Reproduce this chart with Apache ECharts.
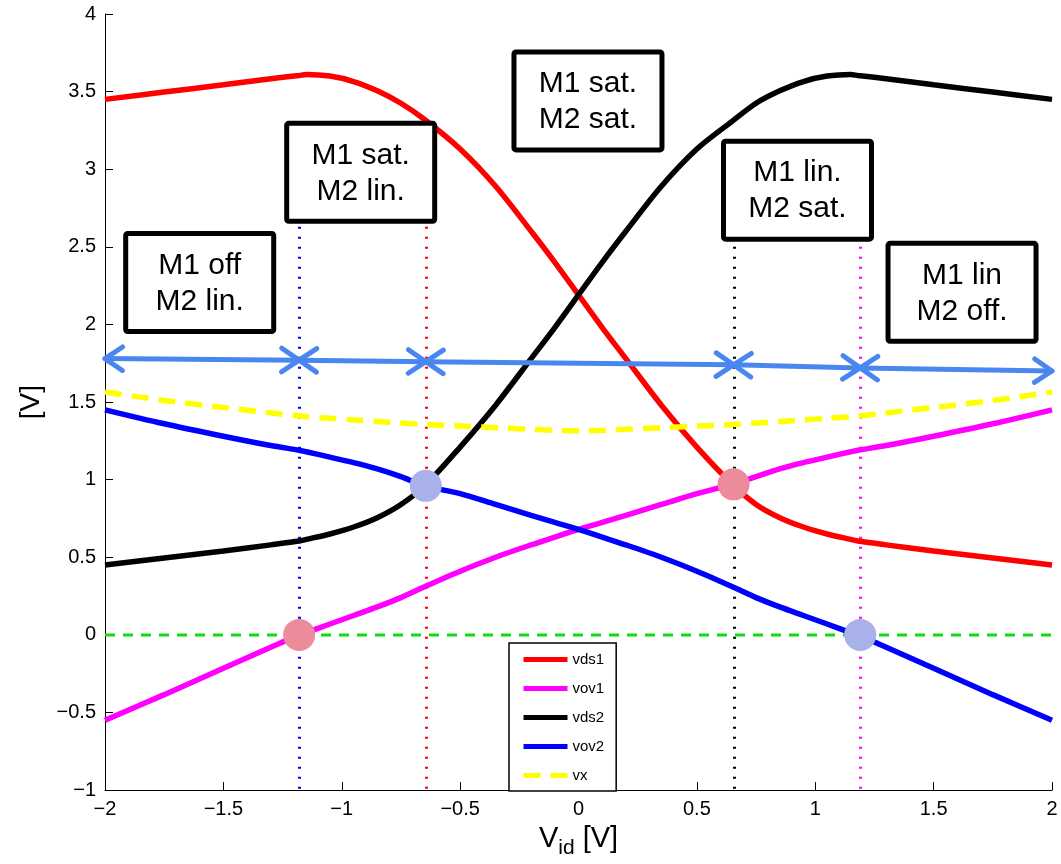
<!DOCTYPE html>
<html>
<head>
<meta charset="utf-8">
<script src="https://cdn.jsdelivr.net/npm/echarts@6/dist/echarts.min.js"></script>
<style>
  html, body { margin: 0; padding: 0; background: #fff; }
  #chart { width: 1061px; height: 864px; }
</style>
</head>
<body>
<div id="chart"></div>
<script>
// differential input sweep [V]
const vid = [-2, -1.75, -1.5, -1.3, -1.18, -1.15, -1.05, -0.95, -0.85, -0.75, -0.65, -0.5, -0.35, -0.2, -0.1, 0,
  0.1, 0.2, 0.35, 0.5, 0.65, 0.75, 0.85, 0.95, 1.05, 1.15, 1.18, 1.3, 1.5, 1.75, 2];

const vds1 = [3.45, 3.497, 3.544, 3.583, 3.604, 3.61, 3.60, 3.565, 3.505, 3.425, 3.32, 3.13, 2.89, 2.60, 2.40, 2.19,
  1.98, 1.78, 1.48, 1.21, 0.97, 0.84, 0.755, 0.695, 0.65, 0.615, 0.605, 0.58, 0.54, 0.495, 0.45];
const vov1 = [-0.55, -0.385, -0.215, -0.08, 0.0, 0.015, 0.07, 0.125, 0.18, 0.24, 0.31, 0.41, 0.50, 0.58, 0.63, 0.68,
  0.725, 0.77, 0.84, 0.91, 0.97, 1.02, 1.07, 1.11, 1.145, 1.18, 1.19, 1.22, 1.28, 1.36, 1.45];
const vds2 = [0.45, 0.495, 0.54, 0.58, 0.605, 0.615, 0.65, 0.695, 0.755, 0.84, 0.96, 1.21, 1.48, 1.78, 1.98, 2.19,
  2.40, 2.60, 2.89, 3.13, 3.31, 3.425, 3.505, 3.565, 3.60, 3.61, 3.604, 3.583, 3.544, 3.497, 3.45];
const vov2 = [1.45, 1.36, 1.28, 1.22, 1.19, 1.18, 1.145, 1.11, 1.07, 1.02, 0.96, 0.91, 0.84, 0.77, 0.725, 0.68,
  0.63, 0.58, 0.50, 0.41, 0.31, 0.24, 0.18, 0.125, 0.07, 0.015, 0.0, -0.08, -0.215, -0.385, -0.55];
const vx = [1.565, 1.51, 1.465, 1.43, 1.41, 1.405, 1.395, 1.385, 1.375, 1.365, 1.355, 1.345, 1.335, 1.325, 1.318, 1.315,
  1.318, 1.325, 1.335, 1.345, 1.355, 1.365, 1.375, 1.385, 1.395, 1.405, 1.41, 1.43, 1.465, 1.51, 1.565];

// region boundaries (dotted verticals)
const edgeX = [-1.18, -0.645, 0.655, 1.19];
const edgeTop = [2.63, 2.63, 2.5, 2.5];

// double arrows between the boundaries
const arrowX = [-2, -1.18, -0.645, 0.655, 1.19, 2];
const arrowY = [1.78, 1.77, 1.76, 1.74, 1.72, 1.70];

// transition points
const dotX = [-1.18, -0.645, 0.655, 1.19];
const dotY = [0, 0.96, 0.97, 0];

// region labels
const regionText = ['M1 off\nM2 lin.', 'M1 sat.\nM2 lin.', 'M1 sat.\nM2 sat.', 'M1 lin.\nM2 sat.', 'M1 lin\nM2 off.'];
const regionX = [-1.60, -0.92, 0.04, 0.925, 1.62];
const regionY = [2.27, 2.98, 3.44, 2.865, 2.207];

const FONT = '"Liberation Sans", Arial, Helvetica, sans-serif';
const edgeColors = ['#0000ff', '#ff0000', '#000000', '#ff00ff'];
const dotColors = ['#ec8c9b', '#a9b1ea', '#ec8c9b', '#a9b1ea'];
const ARROW_BLUE = '#4a86f0';
const BOX_W = 148, BOX_H = 98;

const minus = v => String(v).replace('-', '\u2212');

function curve(name, ys, color, type) {
  return {
    type: 'line', name, color,
    data: vid.map((x, i) => [x, ys[i]]),
    showSymbol: false, symbol: 'none',
    smooth: 0.3,
    lineStyle: { color, width: 5.5, type: type || 'solid' },
    itemStyle: { color },
    z: 3
  };
}

function chevron(tip, dir) {
  const L = 21, a = 34 * Math.PI / 180;
  const bx = -dir[0], by = -dir[1];
  const arm = t => [tip[0] + L * (bx * Math.cos(t) - by * Math.sin(t)),
                    tip[1] + L * (bx * Math.sin(t) + by * Math.cos(t))];
  return [arm(a), tip, arm(-a)];
}

const chart = echarts.init(document.getElementById('chart'));

const series = [
  curve('vds1', vds1, '#ff0000'),
  curve('vov1', vov1, '#ff00ff'),
  curve('vds2', vds2, '#000000'),
  curve('vov2', vov2, '#0000ff'),
  curve('vx', vx, '#ffff00', [17, 10]),
  {
    type: 'line', name: 'zero', color: '#11dd11',
    data: [[-2, 0], [2, 0]],
    showSymbol: false, symbol: 'none',
    lineStyle: { color: '#11dd11', width: 3, type: [10, 8] },
    z: 2
  },
  {
    // dotted region boundaries
    type: 'custom', name: 'edges',
    encode: { x: 0, y: 1 },
    data: edgeX.map((x, i) => [x, edgeTop[i]]),
    renderItem(params, api) {
      const top = api.coord([api.value(0), api.value(1)]);
      const bottom = api.coord([api.value(0), -1]);
      const x = Math.round(top[0]) + 0.5;
      return {
        type: 'line',
        shape: { x1: x, y1: top[1], x2: x, y2: bottom[1] },
        style: { stroke: edgeColors[params.dataIndex], lineWidth: 3, lineDash: [2, 8], fill: null }
      };
    },
    z: 2
  }
];

series.push({
  type: 'custom', name: 'arrows',
  encode: { x: [0, 2], y: [1, 3] },
  data: arrowX.slice(0, -1).map((x, i) => [x, arrowY[i], arrowX[i + 1], arrowY[i + 1]]),
  renderItem(params, api) {
    const p1 = api.coord([api.value(0), api.value(1)]);
    const p2 = api.coord([api.value(2), api.value(3)]);
    const len = Math.hypot(p2[0] - p1[0], p2[1] - p1[1]);
    const d = [(p2[0] - p1[0]) / len, (p2[1] - p1[1]) / len];
    const style = { stroke: ARROW_BLUE, lineWidth: 5, lineCap: 'round', lineJoin: 'round', fill: null };
    return {
      type: 'group',
      children: [
        { type: 'line', shape: { x1: p1[0], y1: p1[1], x2: p2[0], y2: p2[1] }, style },
        { type: 'polyline', shape: { points: chevron(p2, d) }, style },
        { type: 'polyline', shape: { points: chevron(p1, [-d[0], -d[1]]) }, style }
      ]
    };
  },
  clip: false,
  z: 5
});

series.push({
  type: 'scatter', name: 'dots',
  data: dotX.map((x, i) => ({ value: [x, dotY[i]], itemStyle: { color: dotColors[i], opacity: 1 } })),
  symbolSize: 32,
  z: 6
});

series.push({
  type: 'custom', name: 'regions',
  encode: { x: 0, y: 1 },
  data: regionX.map((x, i) => [x, regionY[i]]),
  renderItem(params, api) {
    const c = api.coord([api.value(0), api.value(1)]);
    return {
      type: 'group',
      children: [
        {
          type: 'rect',
          shape: { x: c[0] - BOX_W / 2, y: c[1] - BOX_H / 2, width: BOX_W, height: BOX_H, r: 2 },
          style: { fill: '#fff', stroke: '#000', lineWidth: 5 }
        },
        {
          type: 'text',
          style: {
            text: regionText[params.dataIndex], x: c[0], y: c[1] + 1,
            align: 'center', verticalAlign: 'middle',
            font: '30px ' + FONT, lineHeight: 36, fill: '#000'
          }
        }
      ]
    };
  },
  clip: false,
  z: 7
});

chart.setOption({
  animation: false,
  backgroundColor: '#fff',
  grid: { left: 105, right: 9, top: 14, bottom: 69 },
  legend: {
    data: ['vds1', 'vov1', 'vds2', 'vov2', 'vx'],
    orient: 'vertical',
    left: 509, top: 643,
    itemWidth: 44, itemHeight: 12, itemGap: 14,
    padding: [9, 12, 8, 12],
    itemStyle: { opacity: 0 },
    lineStyle: { width: 5 },
    backgroundColor: '#fff',
    borderColor: '#000', borderWidth: 1.5,
    textStyle: { fontFamily: FONT, fontSize: 15, color: '#000' },
    z: 10
  },
  xAxis: {
    type: 'value', min: -2, max: 2, interval: 0.5,
    axisLine: { onZero: false, lineStyle: { color: '#000', width: 1 } },
    axisTick: { inside: true, length: 8, lineStyle: { color: '#000' } },
    axisLabel: { color: '#000', fontFamily: FONT, fontSize: 20, margin: 9, formatter: minus },
    splitLine: { show: false },
    name: '{v|V}{sub|id}{v| [V]}',
    nameLocation: 'middle', nameGap: 21,
    nameTextStyle: {
      rich: {
        v: { fontFamily: FONT, fontSize: 29, lineHeight: 30, verticalAlign: 'top', color: '#000' },
        sub: { fontFamily: FONT, fontSize: 21, lineHeight: 30, verticalAlign: 'top', padding: [14, 0, 0, 0], color: '#000' }
      }
    }
  },
  yAxis: {
    type: 'value', min: -1, max: 4, interval: 0.5,
    axisLine: { show: true, onZero: false, lineStyle: { color: '#000', width: 1 } },
    axisTick: { show: true, inside: true, length: 8, lineStyle: { color: '#000' } },
    axisLabel: { color: '#000', fontFamily: FONT, fontSize: 20, margin: 9, formatter: minus },
    splitLine: { show: false },
    name: '[V]', nameLocation: 'middle', nameGap: 54, nameRotate: 90,
    nameTextStyle: { fontFamily: FONT, fontSize: 28, color: '#000' }
  },
  series
});
</script>
</body>
</html>
